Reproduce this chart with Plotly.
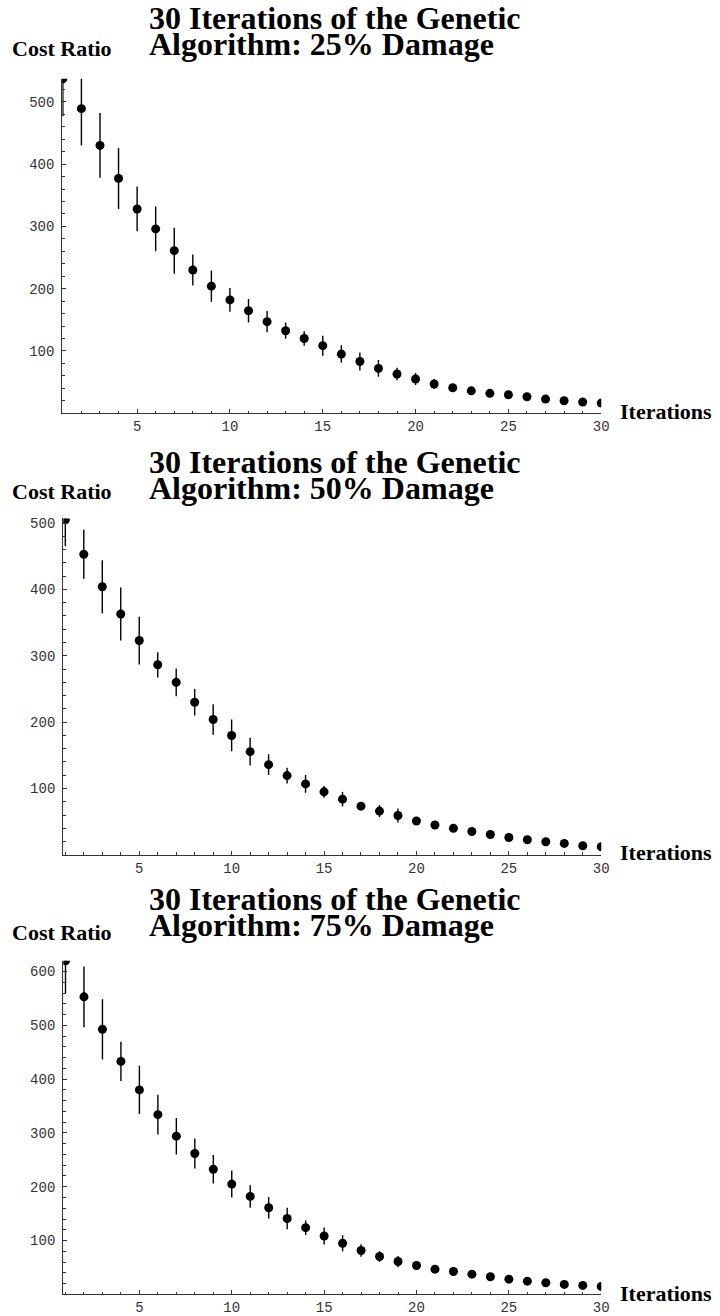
import plotly.graph_objects as go

iterations = list(range(1, 31))

damage_labels = ["25%", "50%", "75%"]

cost_25 = [537, 489, 430, 377, 328, 296, 261, 230, 204, 182, 164.5, 147, 132.5, 120, 108.5,
           95, 83, 72, 63, 55, 47, 41, 36, 32, 29.6, 26.4, 22.7, 20, 18, 16.3]
err_25 = [60, 59, 52, 49, 36, 36, 37, 25, 25, 19, 19, 17, 13, 11.5, 16,
          14, 14.5, 13.5, 10, 9.5, 8, 5, 2, 1.5, 1, 1, 1, 0.5, 0.5, 0.5]

cost_50 = [505, 453, 404, 363, 323, 286.5, 260, 230, 204, 180, 155.6, 136, 119.5, 107, 95,
           84, 73.4, 66, 59.4, 51, 45, 40, 35.3, 30.8, 26.3, 22.8, 19.8, 17.3, 13.8, 12.3]
err_50 = [40, 37, 40, 40, 36, 19, 21, 20, 23, 24, 21, 15.5, 12, 13.5, 9,
          11, 4, 9, 10.5, 5, 3, 2, 1.5, 1, 1, 1, 0.5, 0.5, 0.5, 0.5]

cost_75 = [620, 553, 492.6, 433, 380, 334, 294, 261.7, 232.6, 205, 182, 161, 141, 124, 108.5,
           95, 81.5, 70.3, 61, 53.7, 46.9, 42.5, 37.6, 32.7, 28.3, 24.6, 21.5, 18.5, 16.6, 14.8]
err_75 = [60, 56.5, 56, 36.5, 45, 37, 34, 28, 26.5, 25, 21, 20, 20, 13.5, 16,
          15, 11.5, 10, 10.5, 4, 2, 1.5, 1, 1, 1, 0.5, 0.5, 0.5, 0.5, 0.5]

y_max = [537, 507, 620]
y_tick_sets = [[100, 200, 300, 400, 500], [100, 200, 300, 400, 500], [100, 200, 300, 400, 500, 600]]
x_ticks = [5, 10, 15, 20, 25, 30]
x_start = [0.97, 0.89, 0.88]

series = [(cost_25, err_25), (cost_50, err_50), (cost_75, err_75)]

W, H = 720, 1316
# plot area pixel boxes: (left, right, top, bottom)
boxes = [(63, 608, 77, 412.5), (64, 608, 518, 855.5), (64, 608, 961.7, 1296.3)]
title_base = [(16, 42), (461, 487), (900, 926)]
cost_y = [47, 491, 933]
iter_y = [411, 853.5, 1295]

serif = "Liberation Serif, Times New Roman, serif"
mono = "Liberation Mono, Courier New, monospace"

fig = go.Figure()
annotations = []
layout = {}
for i, ((vals, errs), box) in enumerate(zip(series, boxes)):
    sfx = "" if i == 0 else str(i + 1)
    xa, ya = "x" + sfx, "y" + sfx
    fig.add_trace(go.Scatter(
        x=iterations, y=vals, mode="markers", xaxis=xa, yaxis=ya,
        marker=dict(color="black", size=9),
        error_y=dict(type="data", array=errs, visible=True, width=0, thickness=1.4, color="black"),
        showlegend=False, cliponaxis=True,
    ))
    l, r, t, b = box
    ymin_minor = [v for v in range(20, int(y_max[i]) + 1, 20) if v % 100 != 0]
    layout["xaxis" + sfx] = dict(
        domain=[l / W, r / W], anchor=ya, range=[x_start[i], 30],
        tickmode="array", tickvals=x_ticks, ticks="inside", ticklen=4, tickwidth=1,
        tickcolor="#333", showline=True, linecolor="#333", linewidth=1.3,
        showgrid=False, zeroline=False,
        tickfont=dict(family=mono, size=14, color="#333"),
        minor=dict(tickmode="array", tickvals=[v for v in iterations if v % 5 != 0],
                   ticks="inside", ticklen=2.5, tickcolor="#333", tickwidth=1, showgrid=False),
        fixedrange=True,
    )
    layout["yaxis" + sfx] = dict(
        domain=[1 - b / H, 1 - t / H], anchor=xa, range=[0, y_max[i]],
        tickmode="array", tickvals=y_tick_sets[i], ticks="inside", ticklen=4, tickwidth=1,
        tickcolor="#333", showline=True, linecolor="#333", linewidth=1.3,
        showgrid=False, zeroline=False, ticklabelstandoff=4,
        tickfont=dict(family=mono, size=14, color="#333"),
        minor=dict(tickmode="array", tickvals=ymin_minor,
                   ticks="inside", ticklen=2.5, tickcolor="#333", tickwidth=1, showgrid=False),
        fixedrange=True,
    )
    t1, t2 = title_base[i]
    annotations.append(dict(text="<b>30 Iterations of the Genetic</b>", x=149 / W, y=1 - t1 / H,
                            xref="paper", yref="paper", xanchor="left", yanchor="middle",
                            showarrow=False, font=dict(family=serif, size=32, color="black")))
    annotations.append(dict(text=f"<b>Algorithm: {damage_labels[i]} Damage</b>", x=149 / W, y=1 - t2 / H,
                            xref="paper", yref="paper", xanchor="left", yanchor="middle",
                            showarrow=False, font=dict(family=serif, size=32, color="black")))
    annotations.append(dict(text="<b>Cost Ratio</b>", x=63 / W, y=1 - cost_y[i] / H,
                            xref="paper", yref="paper", xanchor="center", yanchor="middle",
                            showarrow=False, font=dict(family=serif, size=22, color="black")))
    annotations.append(dict(text="<b>Iterations</b>", x=625 / W, y=1 - iter_y[i] / H,
                            xref="paper", yref="paper", xanchor="left", yanchor="middle",
                            showarrow=False, font=dict(family=serif, size=22, color="black")))

fig.update_layout(
    width=W, height=H, autosize=False,
    margin=dict(l=0, r=0, t=0, b=0, pad=0),
    paper_bgcolor="white", plot_bgcolor="white",
    annotations=annotations, **layout,
)

fig.write_html(
    "out.html",
    config={"displayModeBar": False},
    post_script="document.body.style.margin='0px';document.body.style.overflow='hidden';",
)
